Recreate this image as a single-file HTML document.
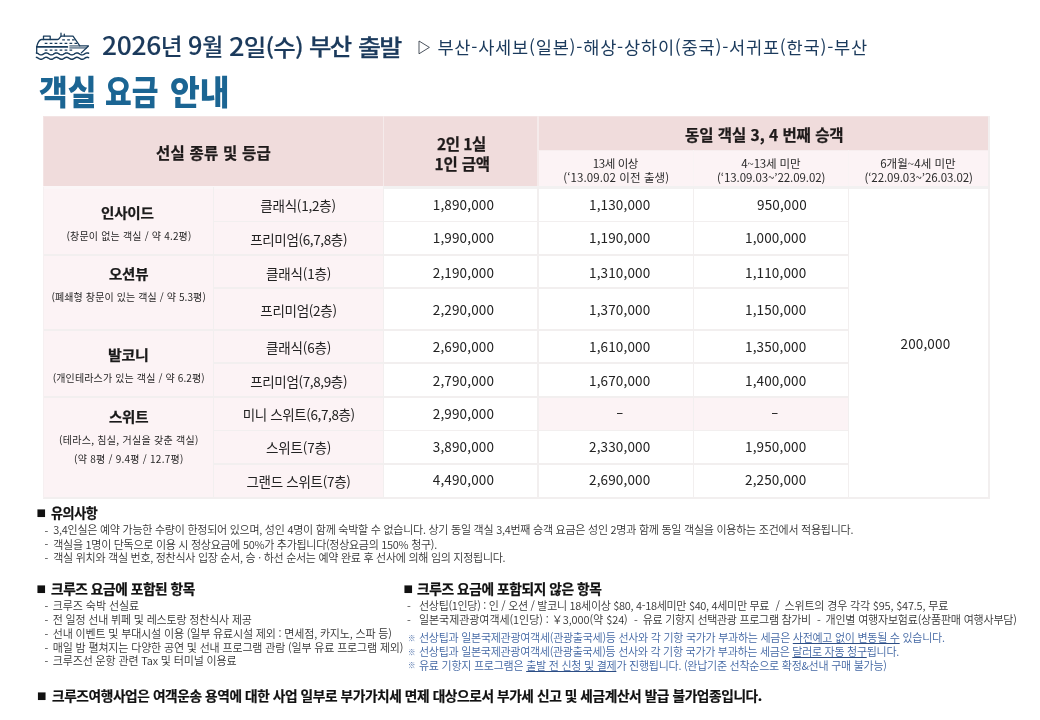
<!DOCTYPE html>
<html lang="ko"><head><meta charset="utf-8"><title>객실 요금 안내</title>
<style>
*{margin:0;padding:0;box-sizing:border-box}
html,body{width:1040px;height:720px;background:#fff;overflow:hidden}
body{position:relative;font-family:"Liberation Sans","Noto Sans CJK KR","NanumGothic",sans-serif;color:#222}
.a{position:absolute;white-space:nowrap}
.t{position:absolute;white-space:nowrap;line-height:1;transform-origin:0 0;font-family:"Noto Sans CJK KR","NanumGothic",sans-serif}
.date{font-size:22.5px;font-weight:500;color:#1b3a5c;-webkit-text-stroke:0.12px #1b3a5c}
.dg{font-size:25px}
.dateb{-webkit-text-stroke:0.3px #1b3a5c}
.route{font-size:17.6px;font-weight:400;color:#1b3a5c}
.title{font-size:34px;font-weight:900;color:#1b6593}
.th{font-size:15.5px;font-weight:700;color:#1e1a1a;-webkit-text-stroke:0.25px #1e1a1a}
.sh{font-size:11.5px;color:#2a2a2a}
.cat{font-size:14px;font-weight:700;color:#1a1a1a;-webkit-text-stroke:0.25px #1a1a1a}
.sub{font-size:10px;color:#262626}
.td{font-size:13.5px;color:#222}
.num{font-size:13.5px;color:#222}
.h{font-size:13.4px;font-weight:700;color:#111;-webkit-text-stroke:0.25px #111}
.sq{font-size:10px;color:#111;font-family:"DejaVu Sans",sans-serif}
.n{font-size:11px;color:#333;font-weight:350}
.b{color:#4166a3}
.u{text-decoration:underline;text-underline-offset:1.1px;text-decoration-thickness:1px;text-decoration-color:#2c4d84;text-decoration-skip-ink:none}
.foot{font-size:13.2px;font-weight:700;color:#111;-webkit-text-stroke:0.2px #111}
.ln{position:absolute;background:#f2efef}
</style></head>
<body>
<svg class="a" style="left:30px;top:26px" width="70" height="40" viewBox="30 26 70 40" fill="none" stroke="#1a3d5c" stroke-width="1.3" stroke-linecap="round" stroke-linejoin="round">
<path d="M36.7 53.2 L36.7 46.6 C37.6 43.2 38.8 39.6 41.6 39.5 L57.6 39.5 C59.8 39.5 59.6 36.1 61.8 36.1 L73 36.1 L79.8 45.95 L88.5 45.95 L81.3 52.9"/>
<path d="M43.5 39.5 L43.5 36.2 L50.2 36.2 L50.2 39.5"/>
<path d="M61 36.1 L61 33.2 M64.3 36.1 L64.3 34.2"/>
<path d="M37 46.9 L67.3 46.9" stroke-width="1.9"/>
<path d="M69.8 45.95 L79.8 45.95 M69.8 47.95 L86.4 47.95" stroke-width="1"/>
<path d="M62.2 39.8 h2.7 M67.2 39.8 h2.7 M72.0 39.8 h2.7 M44.7 43.4 h2.7 M49.7 43.4 h2.7 M54.6 43.4 h2.7 M59.6 43.4 h2.7 M64.6 43.4 h2.7 M69.5 43.4 h2.7 M74.5 43.4 h2.7 M44.7 50.1 h2.7 M49.7 50.1 h2.7 M54.6 50.1 h2.7 M59.6 50.1 h2.7 M64.6 50.1 h2.7 M69.5 50.1 h2.7" stroke-width="1.25" stroke-linecap="butt"/>
<path d="M36.4 52.95 L37.0 53.12 L37.6 53.39 L38.2 53.74 L38.8 54.10 L39.4 54.44 L40.0 54.71 L40.6 54.87 L41.2 54.89 L41.8 54.79 L42.4 54.57 L43.0 54.26 L43.6 53.90 L44.2 53.54 L44.8 53.23 L45.4 53.01 L46.0 52.90 L46.6 52.94 L47.2 53.10 L47.8 53.36 L48.4 53.70 L49.0 54.07 L49.6 54.41 L50.2 54.69 L50.8 54.86 L51.4 54.90 L52.0 54.81 L52.6 54.60 L53.2 54.29 L53.8 53.93 L54.4 53.57 L55.0 53.25 L55.6 53.02 L56.2 52.91 L56.8 52.93 L57.4 53.07 L58.0 53.33 L58.6 53.67 L59.2 54.03 L59.8 54.38 L60.4 54.66 L61.0 54.84 L61.6 54.90 L62.2 54.82 L62.8 54.62 L63.4 54.32 L64.0 53.97 L64.6 53.61 L65.2 53.28 L65.8 53.04 L66.4 52.91 L67.0 52.92 L67.6 53.05 L68.2 53.30 L68.8 53.63 L69.4 53.99 L70.0 54.35 L70.6 54.64 L71.2 54.83 L71.8 54.90 L72.4 54.84 L73.0 54.65 L73.6 54.36 L74.2 54.01 L74.8 53.64 L75.4 53.31 L76.0 53.06 L76.6 52.92 L77.2 52.91 L77.8 53.04 L78.4 53.27 L79.0 53.60 L79.6 53.96 L80.2 54.31 L80.8 54.61 L81.4 54.82 L82.0 54.90 L82.6 54.85 L83.2 54.67 L83.8 54.39 L84.4 54.04 L85.0 53.68 L85.6 53.34 L86.2 53.08 L86.8 52.93 L87.4 52.91 L88.0 53.02 L88.6 53.25" stroke-width="1.45"/>
<path d="M36.4 57.35 L37.0 57.52 L37.6 57.79 L38.2 58.14 L38.8 58.50 L39.4 58.84 L40.0 59.11 L40.6 59.27 L41.2 59.29 L41.8 59.19 L42.4 58.97 L43.0 58.66 L43.6 58.30 L44.2 57.94 L44.8 57.63 L45.4 57.41 L46.0 57.30 L46.6 57.34 L47.2 57.50 L47.8 57.76 L48.4 58.10 L49.0 58.47 L49.6 58.81 L50.2 59.09 L50.8 59.26 L51.4 59.30 L52.0 59.21 L52.6 59.00 L53.2 58.69 L53.8 58.33 L54.4 57.97 L55.0 57.65 L55.6 57.42 L56.2 57.31 L56.8 57.33 L57.4 57.47 L58.0 57.73 L58.6 58.07 L59.2 58.43 L59.8 58.78 L60.4 59.06 L61.0 59.24 L61.6 59.30 L62.2 59.22 L62.8 59.02 L63.4 58.72 L64.0 58.37 L64.6 58.01 L65.2 57.68 L65.8 57.44 L66.4 57.31 L67.0 57.32 L67.6 57.45 L68.2 57.70 L68.8 58.03 L69.4 58.39 L70.0 58.75 L70.6 59.04 L71.2 59.23 L71.8 59.30 L72.4 59.24 L73.0 59.05 L73.6 58.76 L74.2 58.41 L74.8 58.04 L75.4 57.71 L76.0 57.46 L76.6 57.32 L77.2 57.31 L77.8 57.44 L78.4 57.67 L79.0 58.00 L79.6 58.36 L80.2 58.71 L80.8 59.01 L81.4 59.22 L82.0 59.30 L82.6 59.25 L83.2 59.07 L83.8 58.79 L84.4 58.44 L85.0 58.08 L85.6 57.74 L86.2 57.48 L86.8 57.33 L87.4 57.31 L88.0 57.42 L88.6 57.65" stroke-width="1.45"/>
</svg>
<svg class="a" style="left:418.3px;top:39.5px" width="13" height="15" viewBox="0 0 13 15" fill="none" stroke="#38414d" stroke-width="0.9"><path d="M1 1 L11.4 7.4 L1 13.8 Z"/></svg>
<div class="a" style="left:43.4px;top:116px;width:945.4px;height:70.5px;background:#f0dcdc"></div>
<div class="a" style="left:538.2px;top:150.2px;width:450.6px;height:36.3px;background:#fcf3f5"></div>
<div class="a" style="left:43.4px;top:186.5px;width:340.0px;height:311.2px;background:#fcf3f5"></div>
<div class="a" style="left:538.2px;top:396.8px;width:310.2px;height:33.6px;background:#fcf3f5"></div>
<div class="ln" style="left:43.4px;top:116.0px;width:945.4px;height:1px;background:#f3e4e4"></div>
<div class="ln" style="left:43.4px;top:116px;width:1px;height:70.5px;background:#f3e4e4"></div>
<div class="ln" style="left:382.5px;top:116px;width:1.8px;height:70.5px;background:#f5ebeb"></div>
<div class="ln" style="left:537.3px;top:116px;width:1.8px;height:70.5px;background:#f5ebeb"></div>
<div class="ln" style="left:538.2px;top:149.5px;width:450.6px;height:1.4px;background:#f7eeef"></div>
<div class="ln" style="left:692.5px;top:150.2px;width:1.8px;height:36.3px;background:#f9f3f4"></div>
<div class="ln" style="left:847.5px;top:150.2px;width:1.8px;height:36.3px;background:#f9f3f4"></div>
<div class="ln" style="left:43.4px;top:186.45px;width:340.0px;height:2.3px;background:#fbf6f7"></div>
<div class="ln" style="left:383.4px;top:186.45px;width:606.3px;height:2.3px;background:#f2f1f1"></div>
<div class="ln" style="left:213.4px;top:220.5px;width:635.0px;height:1.8px"></div>
<div class="ln" style="left:43.4px;top:254.0px;width:805.0px;height:1.8px"></div>
<div class="ln" style="left:213.4px;top:287.4px;width:635.0px;height:1.8px"></div>
<div class="ln" style="left:43.4px;top:329.1px;width:805.0px;height:1.8px"></div>
<div class="ln" style="left:213.4px;top:362.4px;width:635.0px;height:1.8px"></div>
<div class="ln" style="left:43.4px;top:395.9px;width:805.0px;height:1.8px"></div>
<div class="ln" style="left:213.4px;top:429.5px;width:635.0px;height:1.8px"></div>
<div class="ln" style="left:213.4px;top:462.85px;width:635.0px;height:1.8px"></div>
<div class="ln" style="left:43.4px;top:496.8px;width:946.3px;height:1.8px"></div>
<div class="ln" style="left:43.2px;top:186.5px;width:1.2px;height:311.2px;background:#f6f0f1"></div>
<div class="ln" style="left:212.5px;top:186.5px;width:1.8px;height:312.1px"></div>
<div class="ln" style="left:382.5px;top:186.5px;width:1.8px;height:312.1px"></div>
<div class="ln" style="left:537.3px;top:186.5px;width:1.8px;height:312.1px"></div>
<div class="ln" style="left:692.5px;top:186.5px;width:1.8px;height:312.1px"></div>
<div class="ln" style="left:847.5px;top:186.5px;width:1.8px;height:312.1px"></div>
<div class="ln" style="left:987.9px;top:116px;width:1.8px;height:382.6px"></div>
<div class="t date" style="left:101.95px;top:32.15px;letter-spacing:-0.300px;transform:scaleX(1.0548);"><span class="dg">2026</span>년</div>
<div class="t date" style="left:187.73px;top:31.65px;letter-spacing:-0.300px;transform:scaleX(1.0156);"><span class="dg">9</span>월</div>
<div class="t date" style="left:229.41px;top:32.90px;letter-spacing:-0.800px;transform:scaleX(1.0909);"><span class="dg">2</span>일(수)</div>
<div class="t date dateb" style="left:308.92px;top:33.50px;letter-spacing:-1.500px;transform:scaleX(1.0789);">부산</div>
<div class="t date dateb" style="left:357.64px;top:34.50px;letter-spacing:-1.500px;transform:scaleX(1.1118);">출발</div>
<div class="t route" style="left:437.40px;top:37.95px;letter-spacing:0.761px;">부산-사세보(일본)-해상-상하이(중국)-서귀포(한국)-부산</div>
<div class="t title" style="left:38.58px;top:73.75px;transform:scaleX(0.9195);">객실</div>
<div class="t title" style="left:105.40px;top:73.75px;transform:scaleX(0.8542);">요금</div>
<div class="t title" style="left:170.30px;top:73.75px;transform:scaleX(0.9534);">안내</div>
<div class="t th" style="left:156.00px;top:145.38px;letter-spacing:0.222px;">선실 종류 및 등급</div>
<div class="t th" style="left:437.00px;top:135.88px;letter-spacing:-0.500px;">2인 1실</div>
<div class="t th" style="left:434.50px;top:155.62px;letter-spacing:-0.188px;">1인 금액</div>
<div class="t th" style="left:685.00px;top:126.50px;letter-spacing:-0.033px;">동일 객실 3, 4 번째 승객</div>
<div class="t sh" style="left:592.80px;top:158.05px;letter-spacing:-0.420px;">13세 이상</div>
<div class="t sh" style="left:563.30px;top:172.15px;letter-spacing:0.088px;">(‘13.09.02 이전 출생)</div>
<div class="t sh" style="left:741.25px;top:158.20px;letter-spacing:-0.179px;">4~13세 미만</div>
<div class="t sh" style="left:717.00px;top:171.65px;letter-spacing:-0.075px;">(‘13.09.03~’22.09.02)</div>
<div class="t sh" style="left:880.20px;top:158.20px;letter-spacing:0.025px;">6개월~4세 미만</div>
<div class="t sh" style="left:864.40px;top:171.65px;letter-spacing:-0.070px;">(‘22.09.03~’26.03.02)</div>
<div class="t cat" style="left:101.46px;top:205.12px;letter-spacing:-0.200px;transform:scaleX(1.0400);">인사이드</div>
<div class="t sub" style="left:66.50px;top:230.88px;letter-spacing:0.184px;">(창문이 없는 객실 / 약 4.2평)</div>
<div class="t cat" style="left:108.75px;top:265.75px;letter-spacing:-0.200px;transform:scaleX(1.0329);">오션뷰</div>
<div class="t sub" style="left:51.50px;top:291.50px;letter-spacing:0.109px;">(폐쇄형 창문이 있는 객실 / 약 5.3평)</div>
<div class="t cat" style="left:108.43px;top:346.88px;letter-spacing:-0.200px;transform:scaleX(1.0694);">발코니</div>
<div class="t sub" style="left:52.75px;top:373.00px;letter-spacing:0.136px;">(개인테라스가 있는 객실 / 약 6.2평)</div>
<div class="t cat" style="left:108.75px;top:408.88px;letter-spacing:-0.200px;transform:scaleX(1.0329);">스위트</div>
<div class="t sub" style="left:59.00px;top:434.50px;letter-spacing:0.289px;">(테라스, 침실, 거실을 갖춘 객실)</div>
<div class="t sub" style="left:74.00px;top:454.00px;letter-spacing:0.250px;">(약 8평 / 9.4평 / 12.7평)</div>
<div class="t td" style="left:260.25px;top:199.40px;letter-spacing:-0.219px;">클래식(1,2층)</div>
<div class="t num" style="left:432.75px;top:198.20px;letter-spacing:0.150px;">1,890,000</div>
<div class="t num" style="left:589.00px;top:198.20px;letter-spacing:0.150px;">1,130,000</div>
<div class="t num" style="left:757.00px;top:198.20px;letter-spacing:0.150px;">950,000</div>
<div class="t td" style="left:250.25px;top:232.50px;letter-spacing:-0.364px;">프리미엄(6,7,8층)</div>
<div class="t num" style="left:432.75px;top:231.30px;letter-spacing:0.150px;">1,990,000</div>
<div class="t num" style="left:589.00px;top:231.30px;letter-spacing:0.150px;">1,190,000</div>
<div class="t num" style="left:745.00px;top:231.30px;letter-spacing:0.150px;">1,000,000</div>
<div class="t td" style="left:266.00px;top:266.75px;letter-spacing:-0.167px;">클래식(1층)</div>
<div class="t num" style="left:432.75px;top:265.55px;letter-spacing:0.150px;">2,190,000</div>
<div class="t num" style="left:589.00px;top:265.55px;letter-spacing:0.150px;">1,310,000</div>
<div class="t num" style="left:745.00px;top:265.55px;letter-spacing:0.150px;">1,110,000</div>
<div class="t td" style="left:260.25px;top:303.75px;letter-spacing:-0.286px;">프리미엄(2층)</div>
<div class="t num" style="left:432.75px;top:302.55px;letter-spacing:0.150px;">2,290,000</div>
<div class="t num" style="left:589.00px;top:302.55px;letter-spacing:0.150px;">1,370,000</div>
<div class="t num" style="left:745.00px;top:302.55px;letter-spacing:0.150px;">1,150,000</div>
<div class="t td" style="left:266.00px;top:341.00px;letter-spacing:-0.167px;">클래식(6층)</div>
<div class="t num" style="left:432.75px;top:339.80px;letter-spacing:0.150px;">2,690,000</div>
<div class="t num" style="left:589.00px;top:339.80px;letter-spacing:0.150px;">1,610,000</div>
<div class="t num" style="left:745.00px;top:339.80px;letter-spacing:0.150px;">1,350,000</div>
<div class="t td" style="left:250.25px;top:374.75px;letter-spacing:-0.364px;">프리미엄(7,8,9층)</div>
<div class="t num" style="left:432.75px;top:373.55px;letter-spacing:0.150px;">2,790,000</div>
<div class="t num" style="left:589.00px;top:373.55px;letter-spacing:0.150px;">1,670,000</div>
<div class="t num" style="left:745.00px;top:373.55px;letter-spacing:0.150px;">1,400,000</div>
<div class="t td" style="left:242.75px;top:408.25px;letter-spacing:-0.385px;">미니 스위트(6,7,8층)</div>
<div class="t num" style="left:432.75px;top:407.05px;letter-spacing:0.150px;">2,990,000</div>
<div class="t num" style="left:616.00px;top:407.00px;transform:scaleX(1.6000);">-</div>
<div class="t num" style="left:771.00px;top:407.00px;transform:scaleX(1.6000);">-</div>
<div class="t td" style="left:266.00px;top:441.00px;letter-spacing:-0.167px;">스위트(7층)</div>
<div class="t num" style="left:432.75px;top:439.80px;letter-spacing:0.150px;">3,890,000</div>
<div class="t num" style="left:589.00px;top:439.80px;letter-spacing:0.150px;">2,330,000</div>
<div class="t num" style="left:745.00px;top:439.80px;letter-spacing:0.150px;">1,950,000</div>
<div class="t td" style="left:246.50px;top:474.50px;letter-spacing:-0.300px;">그랜드 스위트(7층)</div>
<div class="t num" style="left:432.75px;top:473.30px;letter-spacing:0.150px;">4,490,000</div>
<div class="t num" style="left:589.00px;top:473.30px;letter-spacing:0.150px;">2,690,000</div>
<div class="t num" style="left:745.00px;top:473.30px;letter-spacing:0.150px;">2,250,000</div>
<div class="t num" style="left:900.50px;top:336.60px;letter-spacing:0.150px;">200,000</div>
<div class="t sq" style="left:36.50px;top:507.75px;">■</div>
<div class="t h" style="left:51.25px;top:505.62px;letter-spacing:-0.400px;transform:scaleX(0.9740);">유의사항</div>
<div class="t n" style="left:44.50px;top:525.65px;">-</div>
<div class="t n" style="left:53.25px;top:524.25px;letter-spacing:-0.252px;">3,4인실은 예약 가능한 수량이 한정되어 있으며, 성인 4명이 함께 숙박할 수 없습니다. 상기 동일 객실 3,4번째 승객 요금은 성인 2명과 함께 동일 객실을 이용하는 조건에서 적용됩니다.</div>
<div class="t n" style="left:44.50px;top:539.40px;">-</div>
<div class="t n" style="left:53.25px;top:538.50px;letter-spacing:-0.286px;">객실을 1명이 단독으로 이용 시 정상요금에 50%가 추가됩니다(정상요금의 150% 청구).</div>
<div class="t n" style="left:44.50px;top:553.15px;">-</div>
<div class="t n" style="left:53.25px;top:551.75px;letter-spacing:-0.279px;">객실 위치와 객실 번호, 정찬식사 입장 순서, 승 · 하선 순서는 예약 완료 후 선사에 의해 임의 지정됩니다.</div>
<div class="t sq" style="left:36.50px;top:583.50px;">■</div>
<div class="t h" style="left:51.25px;top:581.50px;letter-spacing:-0.400px;transform:scaleX(1.0195);">크루즈 요금에 포함된 항목</div>
<div class="t n" style="left:44.50px;top:600.80px;">-</div>
<div class="t n" style="left:52.75px;top:599.90px;letter-spacing:-0.083px;">크루즈 숙박 선실료</div>
<div class="t n" style="left:44.50px;top:615.15px;">-</div>
<div class="t n" style="left:52.75px;top:614.25px;letter-spacing:-0.188px;">전 일정 선내 뷔페 및 레스토랑 정찬식사 제공</div>
<div class="t n" style="left:44.50px;top:628.90px;">-</div>
<div class="t n" style="left:52.75px;top:627.50px;letter-spacing:-0.167px;">선내 이벤트 및 부대시설 이용 (일부 유료시설 제외 : 면세점, 카지노, 스파 등)</div>
<div class="t n" style="left:44.50px;top:642.60px;">-</div>
<div class="t n" style="left:52.75px;top:641.70px;letter-spacing:-0.165px;">매일 밤 펼쳐지는 다양한 공연 및 선내 프로그램 관람 (일부 유료 프로그램 제외)</div>
<div class="t n" style="left:44.50px;top:655.90px;">-</div>
<div class="t n" style="left:52.75px;top:655.00px;letter-spacing:-0.152px;">크루즈선 운항 관련 Tax 및 터미널 이용료</div>
<div class="t sq" style="left:403.50px;top:583.50px;">■</div>
<div class="t h" style="left:417.00px;top:581.50px;letter-spacing:-0.400px;transform:scaleX(1.0236);">크루즈 요금에 포함되지 않은 항목</div>
<div class="t n" style="left:407.00px;top:601.15px;">-</div>
<div class="t n" style="left:419.00px;top:599.75px;letter-spacing:-0.301px;">선상팁(1인당) : 인 / 오션 / 발코니 18세이상 $80, 4-18세미만 $40, 4세미만 무료</div>
<div class="t n" style="left:775.50px;top:600.25px;">/</div>
<div class="t n" style="left:784.50px;top:599.80px;letter-spacing:-0.167px;">스위트의 경우 각각 $95, $47.5, 무료</div>
<div class="t n" style="left:407.00px;top:615.05px;">-</div>
<div class="t n" style="left:419.00px;top:614.15px;letter-spacing:-0.060px;">일본국제관광여객세(1인당) : ￥3,000(약 $24)</div>
<div class="t n" style="left:634.00px;top:614.90px;">-</div>
<div class="t n" style="left:642.75px;top:614.00px;letter-spacing:-0.303px;">유료 기항지 선택관광 프로그램 참가비</div>
<div class="t n" style="left:817.00px;top:615.05px;">-</div>
<div class="t n" style="left:825.50px;top:614.15px;letter-spacing:-0.202px;">개인별 여행자보험료(상품판매 여행사부담)</div>
<div class="t n b" style="left:408.00px;top:633.70px;font-size:7.5px;">※</div>
<div class="t n b" style="left:419.00px;top:632.30px;letter-spacing:-0.274px;">선상팁과 일본국제관광여객세(관광출국세)등 선사와 각 기항 국가가 부과하는 세금은 <span class="u">사전예고 없이 변동될 수</span> 있습니다.</div>
<div class="t n b" style="left:408.00px;top:647.60px;font-size:7.5px;">※</div>
<div class="t n b" style="left:419.00px;top:646.20px;letter-spacing:-0.285px;">선상팁과 일본국제관광여객세(관광출국세)등 선사와 각 기항 국가가 부과하는 세금은 <span class="u">달러로 자동 청구</span>됩니다.</div>
<div class="t n b" style="left:408.00px;top:661.30px;font-size:7.5px;">※</div>
<div class="t n b" style="left:419.00px;top:660.20px;letter-spacing:-0.254px;">유료 기항지 프로그램은 <span class="u">출발 전 신청 및 결제</span>가 진행됩니다. (완납기준 선착순으로 확정&amp;선내 구매 불가능)</div>
<div class="t sq" style="left:37.00px;top:691.00px;">■</div>
<div class="t foot" style="left:52.00px;top:689.38px;letter-spacing:-0.400px;transform:scaleX(1.0384);">크루즈여행사업은 여객운송 용역에 대한 사업 일부로 부가가치세 면제 대상으로서 부가세 신고 및 세금계산서 발급 불가업종입니다.</div>
</body></html>
